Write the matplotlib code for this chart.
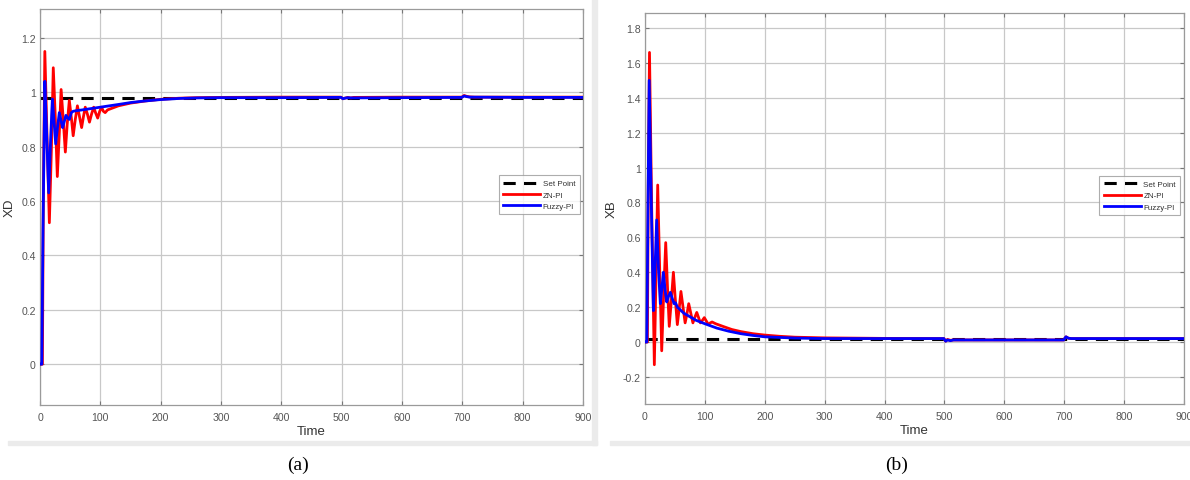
import matplotlib
matplotlib.use("Agg")
import matplotlib.pyplot as plt
from matplotlib.patches import Rectangle

plt.rcParams["font.family"] = ["Liberation Sans", "DejaVu Sans"]

# ---------------- data ----------------
# Panel (a): XD
a_sp_t = [0, 900]
a_sp_v = [0.98, 0.98]

a_zn_t = [0, 4, 5.5, 8, 11.5, 15.5, 19, 22, 25.5, 28.7, 32, 35, 38.5, 42, 45, 48.6,
          52, 55, 58.5, 62, 65.5, 69, 72, 75, 78.5, 82, 85.5, 89, 92, 95.6, 99, 102,
          105, 108, 112, 118, 130, 150, 175, 200, 230, 260, 300, 400, 499, 502, 505,
          510, 515, 520, 600, 699, 703, 707, 712, 720, 800, 900]
a_zn_v = [0, 0, 0.6, 1.15, 0.85, 0.52, 0.80, 1.09, 0.90, 0.69, 0.85, 1.01, 0.90, 0.78,
          0.88, 0.97, 0.905, 0.84, 0.90, 0.95, 0.91, 0.87, 0.91, 0.945, 0.92, 0.89,
          0.92, 0.945, 0.925, 0.905, 0.93, 0.945, 0.93, 0.925, 0.935, 0.94, 0.95,
          0.96, 0.968, 0.974, 0.978, 0.980, 0.981, 0.982, 0.982, 0.976, 0.978, 0.981,
          0.979, 0.981, 0.982, 0.982, 0.988, 0.985, 0.983, 0.982, 0.982, 0.982]

a_fz_t = [0, 3, 5, 8, 11, 14.4, 17.5, 20.5, 23, 26, 29, 32, 35, 37.5, 40, 43, 46, 48.6,
          52, 55, 60, 70, 85, 100, 115, 130, 150, 170, 200, 230, 260, 300, 400, 499,
          502, 505, 510, 515, 600, 699, 703, 707, 712, 800, 900]
a_fz_v = [0, 0, 0.5, 1.04, 0.85, 0.63, 0.82, 0.975, 0.90, 0.81, 0.87, 0.925, 0.895,
          0.87, 0.89, 0.915, 0.905, 0.90, 0.925, 0.93, 0.932, 0.935, 0.94, 0.945, 0.95,
          0.955, 0.962, 0.967, 0.973, 0.977, 0.979, 0.980, 0.980, 0.981, 0.976, 0.978,
          0.980, 0.979, 0.980, 0.981, 0.986, 0.984, 0.982, 0.981, 0.981]

# Panel (b): XB
b_sp_t = [0, 900]
b_sp_v = [0.02, 0.02]

b_zn_t = [0, 4, 5.5, 7.5, 11, 15.6, 18.5, 21.2, 24.5, 27.9, 31, 34.6, 37.5, 40.5, 44,
          47.4, 50.5, 54, 57, 60, 63.5, 67, 70, 73, 76.5, 80, 83, 86.4, 89.5, 92.5, 96,
          99, 102.5, 106, 109, 112, 118, 130, 145, 160, 180, 200, 225, 250, 300, 400,
          499, 502, 505, 510, 515, 600, 699, 703, 707, 712, 800, 900]
b_zn_v = [0, 0, 0.9, 1.66, 0.8, -0.13, 0.4, 0.9, 0.42, -0.05, 0.26, 0.57, 0.32, 0.09,
          0.24, 0.40, 0.25, 0.10, 0.19, 0.29, 0.20, 0.11, 0.16, 0.22, 0.165, 0.11, 0.14,
          0.17, 0.14, 0.11, 0.125, 0.14, 0.12, 0.10, 0.11, 0.115, 0.105, 0.09, 0.072,
          0.06, 0.048, 0.04, 0.033, 0.028, 0.024, 0.021, 0.020, 0.005, 0.015, 0.010,
          0.012, 0.012, 0.012, 0.030, 0.022, 0.020, 0.020, 0.020]

b_fz_t = [0, 3, 5, 7, 10.5, 14, 17, 19.5, 22.5, 25.6, 28, 30.7, 33.5, 36.3, 39, 42.3,
          45.5, 48.5, 51, 54, 65, 75, 85, 100, 120, 140, 160, 180, 200, 250, 300, 400,
          499, 502, 505, 510, 515, 600, 699, 703, 707, 712, 800, 900]
b_fz_v = [0, 0, 0.8, 1.5, 0.8, 0.18, 0.45, 0.70, 0.42, 0.22, 0.30, 0.40, 0.30, 0.23,
          0.26, 0.285, 0.25, 0.22, 0.225, 0.20, 0.165, 0.145, 0.125, 0.105, 0.08, 0.062,
          0.048, 0.038, 0.030, 0.023, 0.020, 0.020, 0.020, 0.005, 0.012, 0.008, 0.012,
          0.012, 0.012, 0.030, 0.022, 0.020, 0.020, 0.020]

x_ticks = [0, 100, 200, 300, 400, 500, 600, 700, 800, 900]
a_yticks = [0, 0.2, 0.4, 0.6, 0.8, 1, 1.2]
b_yticks = [-0.2, 0, 0.2, 0.4, 0.6, 0.8, 1, 1.2, 1.4, 1.6, 1.8]
legend_labels = ["Set Point", "ZN-PI", "Fuzzy-PI"]

# ---------------- figure ----------------
W, H = 1190, 481
fig = plt.figure(figsize=(W / 100, H / 100), dpi=100, facecolor="white")

# light grey frame shadows of the two MATLAB figure windows
for (x0, x1) in [(8, 597), (610, 1190)]:
    fig.patches.append(Rectangle((x0 / W, 1 - 446 / H), (x1 - x0) / W, 4 / H,
                                 transform=fig.transFigure, color="#ebebeb", zorder=0))
fig.patches.append(Rectangle((592 / W, 1 - 446 / H), 5 / W, 446 / H,
                             transform=fig.transFigure, color="#ebebeb", zorder=0))

tick_col = "#555555"


def style(ax, xlim, ylim, yticks, ylabel):
    ax.set_xlim(*xlim)
    ax.set_ylim(*ylim)
    ax.set_xticks(x_ticks)
    ax.set_yticks(yticks)
    ax.set_yticklabels([("%g" % v) for v in yticks])
    ax.grid(True, color="#c8c8c8", linewidth=0.9)
    ax.set_axisbelow(True)
    ax.tick_params(direction="in", length=3, width=0.8, colors="#777777",
                   labelcolor=tick_col, labelsize=7.6, top=True, right=True)
    ax.tick_params(axis="y", pad=3)
    ax.tick_params(axis="x", pad=5)
    for s in ax.spines.values():
        s.set_color("#9a9a9a")
        s.set_linewidth(0.9)
    ax.set_xlabel("Time", fontsize=9.5, color="#333333", labelpad=2)
    ax.set_ylabel(ylabel, fontsize=9.5, color="#333333", labelpad=4)


def draw(ax, sp_t, sp_v, zn_t, zn_v, fz_t, fz_v, anchor):
    l1, = ax.plot(sp_t, sp_v, color="black", linestyle=(0, (4, 2.7)), linewidth=2.2, zorder=2)
    l2, = ax.plot(zn_t, zn_v, color="#ff0000", linewidth=2.0, zorder=3)
    l3, = ax.plot(fz_t, fz_v, color="#0000ff", linewidth=2.0, zorder=4)
    leg = ax.legend([l1, l2, l3], legend_labels, loc="upper right", bbox_to_anchor=anchor,
                    fontsize=5.8, frameon=True, fancybox=False, handlelength=4.6,
                    borderpad=0.55, labelspacing=0.45, handletextpad=0.3, borderaxespad=0)
    leg.get_frame().set_edgecolor("#999999")
    leg.get_frame().set_linewidth(0.8)
    for t in leg.get_texts():
        t.set_color("#333333")


ax1 = fig.add_axes([40 / W, 1 - 406 / H, 543 / W, 396 / H])
style(ax1, (0, 900), (-0.15, 1.306), a_yticks, "XD")
draw(ax1, a_sp_t, a_sp_v, a_zn_t, a_zn_v, a_fz_t, a_fz_v, (0.994, 0.58))

ax2 = fig.add_axes([645 / W, 1 - 405 / H, 539 / W, 391 / H])
style(ax2, (0, 900), (-0.355, 1.886), b_yticks, "XB")
draw(ax2, b_sp_t, b_sp_v, b_zn_t, b_zn_v, b_fz_t, b_fz_v, (0.993, 0.583))

fig.text(298 / W, 1 - 465 / H, "(a)", ha="center", va="center", fontsize=14,
         family="Liberation Serif")
fig.text(897 / W, 1 - 465 / H, "(b)", ha="center", va="center", fontsize=14,
         family="Liberation Serif")

fig.savefig("out.png", dpi=100, facecolor="white")
